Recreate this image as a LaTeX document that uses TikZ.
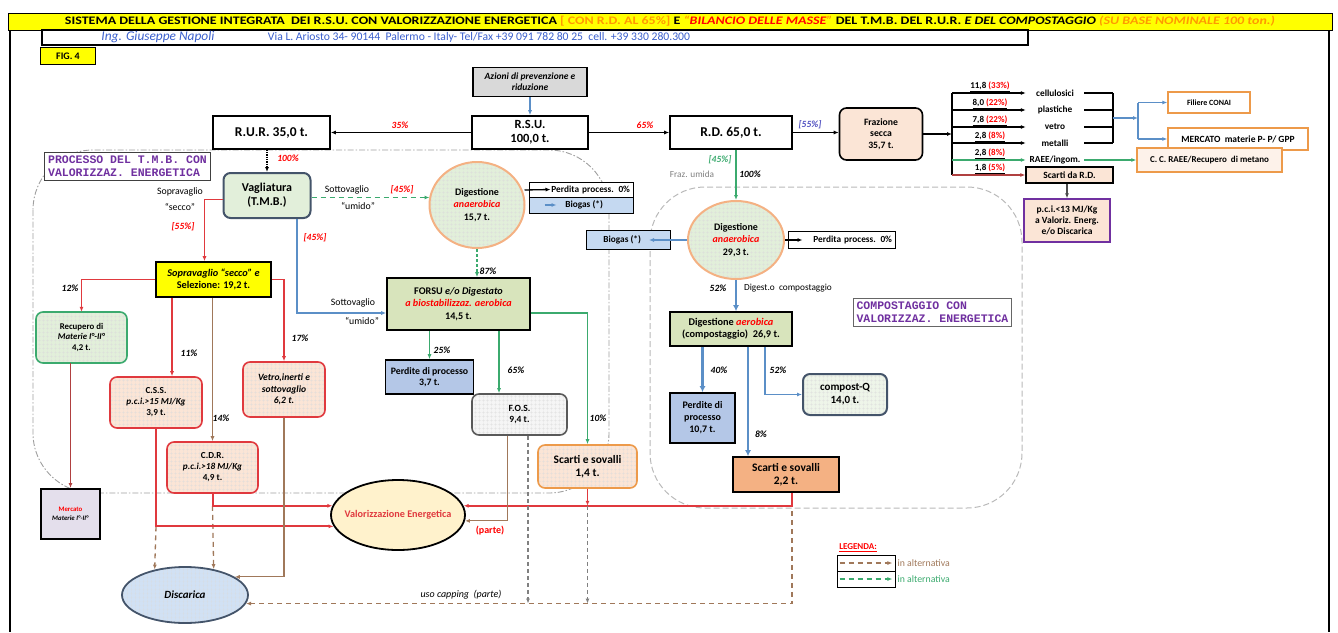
\documentclass[tikz,border=0pt]{standalone}
\usepackage{fontspec}
\usepackage{graphicx}
\setmainfont{Carlito}
\newfontfamily\monof{Liberation Mono}
\usetikzlibrary{arrows.meta,patterns.meta,shapes.geometric,calc}
\definecolor{cRed}{HTML}{E0393E}
\definecolor{cDRed}{HTML}{B04040}
\definecolor{tRed}{HTML}{FF0000}
\definecolor{cGreen}{HTML}{3BAA6E}
\definecolor{cBlue}{HTML}{5B8FC7}
\definecolor{cBrown}{HTML}{A0785A}
\definecolor{cPurple}{HTML}{7030A0}
\definecolor{peach}{HTML}{FBE5D6}
\definecolor{orangeB}{HTML}{ED9A4A}
\definecolor{orangeF}{HTML}{F4B183}
\definecolor{lgreen}{HTML}{E2EFDA}
\definecolor{olive}{HTML}{D8E4BC}
\definecolor{bgrey}{HTML}{B4C7E7}
\definecolor{lblue}{HTML}{C5D9F1}
\definecolor{slate}{HTML}{44546A}
\definecolor{ylw}{HTML}{FFFF00}
\definecolor{cream}{HTML}{FFF2CC}
\definecolor{lav}{HTML}{E4DFEC}
\definecolor{titleOr}{HTML}{FF9900}
\definecolor{addrBlue}{HTML}{3A5FCD}
\definecolor{pctBlue}{HTML}{5050C0}
\tikzset{
  box/.style={draw=black, line width=1.6pt, fill=white, inner sep=1pt, align=center, font=\fontsize{10}{11.5}\selectfont\bfseries},
  rbox/.style={box, rounded corners=7pt},
  ell/.style={ellipse, draw=black, line width=1.8pt, inner sep=0pt, align=center, font=\fontsize{10}{12.5}\selectfont\bfseries},
  gridf/.style={preaction={fill=#1}, pattern={Hatch[angle=0,distance=4pt,line width=0.3pt]}, pattern color=black!14},
  tip/.style={-{Latex[length=5pt,width=4pt]}},
  blk/.style={draw=black, line width=1.3pt, tip},
  redl/.style={draw=cRed, line width=1.3pt, tip},
  redt/.style={draw=cRed, line width=2pt, tip},
  grl/.style={draw=cGreen, line width=1.3pt, tip},
  blul/.style={draw=cBlue, line width=1.2pt, tip},
  blut/.style={draw=cBlue, line width=2.6pt, -{Latex[length=6pt,width=6pt]}},
  brl/.style={draw=cBrown, line width=1.2pt, tip},
  altb/.style={draw=cBrown, line width=1.3pt, dash pattern=on 5pt off 4pt, tip},
  altg/.style={draw=cGreen, line width=1.3pt, dash pattern=on 5pt off 4pt, tip},
  gdash/.style={draw=gray, line width=1.1pt, dash pattern=on 4pt off 3pt, tip},
  lbl/.style={inner sep=0pt, font=\fontsize{9.8}{11}\selectfont},
  pct/.style={inner sep=0pt, font=\fontsize{9.5}{10.5}\selectfont\bfseries\itshape},
  matl/.style={inner sep=0pt, minimum width=58pt, font=\fontsize{9.3}{10}\selectfont\bfseries},
  mono/.style={draw=black!75, line width=1pt, fill=white, align=left, text=cPurple, font=\monof\bfseries\fontsize{11.5}{13}\selectfont},
}
\begin{document}
\begin{tikzpicture}[x=1pt,y=-1pt]
\useasboundingbox (0,0) rectangle (1338,632);
% process regions
\draw[gray!75, line width=0.9pt, dash pattern=on 6pt off 2pt on 1.5pt off 2pt, rounded corners=60pt] (33,150) rectangle (609,493);
\draw[gray!55, line width=1pt, dash pattern=on 6pt off 3pt, rounded corners=55pt] (650,187) rectangle (1022,508);
% frame and header
\draw[line width=1.2pt] (10,30) -- (10,632);
\draw[line width=1.6pt] (1329,30) -- (1329,632);
\node[draw, fill=ylw, line width=1pt, minimum width=1324pt, minimum height=17pt, inner sep=0pt] (title) at (670,21.5)
 {\resizebox{1210pt}{8.5pt}{\bfseries SISTEMA DELLA GESTIONE INTEGRATA~~DEI R.S.U. CON VALORIZZAZIONE ENERGETICA \textcolor{titleOr}{[ CON R.D. AL 65\%]} E \textcolor{titleOr}{\textit{``}}\textcolor{tRed}{\textit{BILANCIO DELLE MASSE}}\textcolor{titleOr}{\textit{''}} DEL T.M.B. DEL R.U.R. \textit{E DEL COMPOSTAGGIO} \textcolor{titleOr}{\textit{(SU BASE NOMINALE 100 ton.)}}}};
\node[draw, line width=1.4pt, minimum width=986pt, minimum height=15pt, inner sep=0pt] (addr) at (535,37.5) {};
\node[inner sep=0pt, text=addrBlue] (name) at (158,37.5) {\resizebox{113pt}{!}{\itshape Ing. Giuseppe Napoli}};
\node[inner sep=0pt, text=addrBlue] (via) at (479,37.5) {\resizebox{422pt}{!}{Via L. Ariosto 34- 90144~ Palermo - Italy- Tel/Fax +39 091 782 80 25~ cell. +39 330 280.300}};
\node[draw, fill=ylw, line width=1.5pt, minimum width=55pt, minimum height=17pt, inner sep=0pt, font=\fontsize{10}{11}\selectfont\bfseries] (fig) at (68,56) {FIG. 4};
% top row
\node[box, fill=gray!30, minimum width=114pt, minimum height=29pt, font=\fontsize{9.5}{11}\selectfont\bfseries\itshape] (azioni) at (530,82) {Azioni di prevenzione e\\riduzione};
\node[box, minimum width=116pt, minimum height=33pt, font=\fontsize{12.5}{14}\selectfont\bfseries] (rsu) at (530,132.5) {R.S.U.\\100,0 t.};
\node[box, minimum width=117pt, minimum height=33pt, font=\fontsize{13.5}{14}\selectfont\bfseries] (rur) at (271.5,132.5) {R.U.R. 35,0 t.};
\node[box, minimum width=122pt, minimum height=33pt, font=\fontsize{13.5}{14}\selectfont\bfseries] (rd) at (731,132.5) {R.D. 65,0 t.};
\node[rbox, fill=peach, minimum width=83pt, minimum height=52pt, font=\fontsize{9.7}{11.5}\selectfont\bfseries] (secca) at (881,134) {Frazione\\secca\\35,7 t.};
% dry fraction split
\coordinate (busA) at (952,93);
\coordinate (busB) at (952,175);
\node[matl] (m1) at (1055,93) {cellulosici};
\node[matl] (m2) at (1055,110) {plastiche};
\node[matl] (m3) at (1055,127) {vetro};
\node[matl] (m4) at (1055,143) {metalli};
\node[matl] (m5) at (1055,160) {RAEE/ingom.};
\node[box, fill=peach, line width=1.3pt, minimum width=87pt, minimum height=16pt, font=\fontsize{9.5}{10}\selectfont\bfseries] (sRD) at (1069.5,175) {Scarti da R.D.};
\node[box, draw=orangeB, line width=1.3pt, minimum width=82pt, minimum height=21pt, font=\fontsize{8}{9}\selectfont\bfseries] (conai) at (1209,102.5) {Filiere CONAI};
\node[box, draw=orangeB, line width=1.3pt, minimum width=140pt, minimum height=22pt, font=\fontsize{9.5}{10}\selectfont\bfseries] (merc) at (1238,139) {MERCATO~ materie P- P/ GPP};
\node[box, draw=orangeB, fill=peach!50, line width=1.3pt, minimum width=145pt, minimum height=24pt, font=\fontsize{9}{10}\selectfont\bfseries] (raee) at (1209.5,160) {C. C. RAEE/Recupero~ di metano};
\node[box, draw=cPurple, fill=peach, line width=1.3pt, minimum width=86pt, minimum height=43pt, font=\fontsize{9.5}{11}\selectfont\bfseries] (pci) at (1067,220.5) {p.c.i.<13 MJ/Kg\\a Valoriz. Energ.\\e/o Discarica};
% TMB side
\node[mono] (proc) at (127.5,166.5) {PROCESSO DEL T.M.B. CON\\VALORIZZAZ. ENERGETICA};
\node[mono, draw=black!60] (comp) at (932.5,312.5) {COMPOSTAGGIO CON\\VALORIZZAZ. ENERGETICA};
\node[rbox, fill=lgreen, draw=slate, line width=2pt, minimum width=87pt, minimum height=45pt, font=\fontsize{12}{14}\selectfont\bfseries] (vagl) at (267,195.5) {Vagliatura\\(T.M.B.)};
\node[box, fill=ylw, minimum width=115pt, minimum height=35pt, font=\fontsize{10.3}{12}\selectfont\bfseries] (sel) at (213.5,279.5) {\textit{Sopravaglio ``secco'' e}\\Selezione: 19,2 t.};
\node[rbox, draw=cGreen, gridf=lgreen, minimum width=91pt, minimum height=51pt, font=\fontsize{8.8}{10.5}\selectfont\bfseries] (recup) at (81.5,337.5) {Recupero di\\\textit{Materie I°-II°}\\4,2 t.};
\node[rbox, draw=cRed, gridf=peach, minimum width=92pt, minimum height=51pt, font=\fontsize{9.2}{11}\selectfont\bfseries] (css) at (156,402.5) {C.S.S.\\\textit{p.c.i.>15 MJ/Kg}\\3,9 t.};
\node[rbox, draw=cRed, gridf=peach, minimum width=82pt, minimum height=55pt, font=\fontsize{9.6}{11.5}\selectfont\bfseries\itshape] (vetroB) at (284,389.5) {Vetro,inerti e\\sottovaglio\\6,2 t.};
\node[rbox, draw=cRed, gridf=peach, minimum width=91pt, minimum height=51pt, font=\fontsize{9.2}{11}\selectfont\bfseries] (cdr) at (212.5,467.5) {C.D.R.\\\textit{p.c.i.>18 MJ/Kg}\\4,9 t.};
\node[box, fill=lav, minimum width=59pt, minimum height=50pt, line width=2pt, font=\fontsize{6.8}{8.5}\selectfont\bfseries] (mercMP) at (70.5,514) {\textcolor{tRed}{Mercato}\\\textit{Materie I°-II°}};
% anaerobic digestion (TMB)
\node[ell, draw=orangeF, line width=2pt, gridf=lgreen, minimum width=95pt, minimum height=86pt] (digL) at (477,205) {Digestione\\\textcolor{tRed}{\textit{anaerobica}}\\15,7 t.};
\node[box, line width=1pt, minimum width=104pt, minimum height=15pt, text width=98pt, align=right, font=\fontsize{9.3}{10}\selectfont\bfseries] (perdL) at (581,189.5) {Perdita process. 0\%};
\node[box, fill=lblue, line width=1pt, minimum width=104pt, minimum height=16pt, font=\fontsize{9.3}{10}\selectfont\bfseries] (bioL) at (581,205) {~~~Biogas (*)};
\node[box, fill=olive, minimum width=143pt, minimum height=52pt, font=\fontsize{10.2}{12.5}\selectfont\bfseries] (forsu) at (458.5,304) {FORSU \textit{e/o Digestato}\\\textcolor{tRed}{\textit{a biostabilizzaz. aerobica}}\\14,5 t.};
\node[box, fill=bgrey, minimum width=88pt, minimum height=34pt, font=\fontsize{9.8}{11.5}\selectfont\bfseries] (perdPL) at (429.5,377) {Perdite di processo\\3,7 t.};
\node[rbox, draw=black!65, gridf=black!4, minimum width=95pt, minimum height=41pt, font=\fontsize{9.5}{11}\selectfont\bfseries] (fos) at (519.5,414.5) {F.O.S.\\9,4 t.};
\node[rbox, draw=orangeB, gridf=peach, minimum width=99pt, minimum height=43pt, font=\fontsize{11.5}{13}\selectfont\bfseries] (scL) at (587.5,466.5) {Scarti e sovalli\\1,4 t.};
% composting side
\node[ell, draw=orangeF, line width=2pt, gridf=lgreen, minimum width=96pt, minimum height=78pt] (digR) at (736,240) {Digestione\\\textcolor{tRed}{\textit{anaerobica}}\\29,3 t.};
\node[box, fill=lblue, line width=1pt, minimum width=84pt, minimum height=19pt, font=\fontsize{9.3}{10}\selectfont\bfseries] (bioR) at (628.5,240) {Biogas (*)~~~~~~};
\node[box, line width=1pt, minimum width=107pt, minimum height=17pt, text width=101pt, align=right, font=\fontsize{9.3}{10}\selectfont\bfseries] (perdR) at (841.5,240) {Perdita process. 0\%};
\node[box, fill=olive, minimum width=122pt, minimum height=34pt, font=\fontsize{10.3}{12}\selectfont\bfseries] (aerob) at (731,329) {Digestione \textcolor{tRed}{\textit{aerobica}}\\(compostaggio)~~26,9 t.};
\node[box, fill=bgrey, minimum width=65pt, minimum height=50pt, font=\fontsize{10}{12}\selectfont\bfseries] (perdPR) at (702.5,418) {Perdite di\\processo\\10,7 t.};
\node[rbox, draw=slate, line width=2pt, gridf=lgreen!60, minimum width=84pt, minimum height=41pt, font=\fontsize{11}{13}\selectfont\bfseries] (compQ) at (845,394.5) {compost-Q\\14,0 t.};
\node[box, fill=orangeF, minimum width=106pt, minimum height=35pt, font=\fontsize{11.5}{13}\selectfont\bfseries] (scR) at (786,474.5) {Scarti e sovalli\\2,2 t.};
% final destinations
\node[ell, fill=cream, minimum width=134pt, minimum height=70pt] (valor) at (398,515) {};
\node[inner sep=0pt, font=\fontsize{10.2}{11}\selectfont\bfseries, text=cRed] (valorT) at (valor.center) {Valorizzazione Energetica};
\node[ell, draw=slate, gridf=lblue!80, minimum width=126pt, minimum height=56pt, font=\fontsize{11}{12}\selectfont\bfseries\itshape] (disc) at (185,595) {Discarica};
% ---- connectors: main row
\draw[draw=cBlue, line width=1.3pt, tip] (azioni.south) -- (rsu.north);
\draw[blk] (rsu.west) -- (rur.east);
\draw[blk] (rsu.east) -- (rd.west);
\draw[blk] (rd.east) -- (rd.east -| secca.west);
\node[pct, text=tRed] (p35) at (400,125) {35\%};
\node[pct, text=tRed] (p65) at (645,125) {65\%};
\node[pct, text=pctBlue] (p55a) at (810,125) {[55\%]};
% dry fraction bus
\draw[blk] (secca.east) -- (secca.east -| busA);
\draw[line width=1.3pt] (busA) -- (busB);
\draw[blk] (busA) -- (m1.west);
\draw[blk] (busA |- m2.west) -- (m2.west);
\draw[blk] (busA |- m3.west) -- (m3.west);
\draw[blk] (busA |- m4.west) -- (m4.west);
\draw[grl] (busA |- m5.west) -- (m5.west);
\draw[draw=cDRed, line width=1.3pt, tip] (busB) -- (sRD.west);
\node[pct, anchor=south, font=\fontsize{9}{10}\selectfont\bfseries] (q1) at (990,92) {\underline{11,8 \textcolor{tRed}{(33\%)}}};
\node[pct, anchor=south, font=\fontsize{9}{10}\selectfont\bfseries] (q2) at (990,109) {\underline{8,0 \textcolor{tRed}{(22\%)}}};
\node[pct, anchor=south, font=\fontsize{9}{10}\selectfont\bfseries] (q3) at (990,126) {\underline{7,8 \textcolor{tRed}{(22\%)}}};
\node[pct, anchor=south, font=\fontsize{9}{10}\selectfont\bfseries] (q4) at (990,142) {\underline{2,8 \textcolor{tRed}{(8\%)}}};
\node[pct, anchor=south, font=\fontsize{9}{10}\selectfont\bfseries] (q5) at (990,159) {\underline{2,8 \textcolor{tRed}{(8\%)}}};
\node[pct, anchor=south, font=\fontsize{9}{10}\selectfont\bfseries] (q6) at (990,174) {\underline{1,8 \textcolor{tRed}{(5\%)}}};
\coordinate (jn) at (1113,118);
\coordinate (bv) at (1138,118);
\draw[line width=1.3pt] (m1.east) -- (m1.east -| jn);
\draw[line width=1.3pt] (m2.east) -- (m2.east -| jn);
\draw[line width=1.3pt] (m3.east) -- (m3.east -| jn);
\draw[line width=1.3pt] (m4.east) -- (m4.east -| jn);
\draw[line width=1.3pt] (m1.east -| jn) -- (m4.east -| jn);
\draw[blul] (jn) -- (bv);
\draw[draw=cBlue, line width=1.2pt] (bv |- conai.west) -- (bv |- merc.west);
\draw[blul] (bv |- conai.west) -- (conai.west);
\draw[blul] (bv |- merc.west) -- (merc.west);
\draw[grl] (m5.east) -- (raee.west);
\draw[draw=black!70, line width=1.3pt, tip] (pci.north |- sRD.south) -- (pci.north);
% ---- TMB connectors
\draw[draw=black, line width=1.3pt, densely dotted, tip] (vagl.north |- rur.south) -- (vagl.north);
\node[pct, text=tRed] (p100) at (288,158) {100\%};
\draw[redl] ($(vagl.west)+(0,4)$) -| ($(sel.north)+(-9,0)$);
\node[lbl] (sopra1) at (180,192) {Sopravaglio};
\node[lbl] (sopra2) at (180,207) {``secco''};
\node[pct, text=tRed] (p55b) at (183,227) {[55\%]};
\draw[altg] ($(vagl.east)+(0,2)$) -- ($(vagl.east -| digL.west)+(1,2)$);
\node[lbl] (sott1) at (347,190) {Sottovaglio};
\node[pct, text=tRed] (p45a) at (402,190) {[45\%]};
\node[lbl] (sott2) at (358,206) {``umido''};
\coordinate (xVb) at (297,0);
\draw[blul] (vagl.south -| xVb) |- ($(forsu.west)+(0,9)$);
\node[pct, text=tRed] (p45b) at (315,238) {[45\%]};
\node[lbl] (sott3) at (353,303) {Sottovaglio};
\node[lbl] (sott4) at (362,321) {``umido''};
\draw[draw=cGreen, line width=1.3pt, dash pattern=on 3pt off 2pt, tip] (digL.south) -- (digL.south |- forsu.north);
\node[pct] (p87) at (488,271) {87\%};
\draw[blk] ($(digL.east)+(-1,-15)$) -- ($(perdL.west)+(22,0)$);
\draw[blul] ($(bioL.west)+(16,0)$) -- ($(bioL.west)+(28,0)$);
\draw[grl] (perdPL.north |- forsu.south) -- (perdPL.north);
\node[pct] (p25) at (442,350) {25\%};
\coordinate (xFos) at (499,0);
\draw[grl] (forsu.south -| xFos) -- (fos.north -| xFos);
\node[pct] (p65b) at (516,370) {65\%};
\draw[grl] ($(forsu.east)+(0,9)$) -| (scL.north);
\node[pct] (p10) at (598,418) {10\%};
% selection outputs
\draw[redl] (sel.west) -| (recup.north);
\node[pct] (p12) at (70,288) {12\%};
\coordinate (xCss) at (172,0);
\draw[redl] (sel.south -| xCss) -- (css.north -| xCss);
\node[pct] (p11) at (189,353) {11\%};
\draw[brl] (sel.south -| cdr.north) -- (cdr.north);
\node[pct] (p14) at (221,418) {14\%};
\draw[redl] (sel.east) -| (vetroB.north);
\node[pct] (p17) at (300,338) {17\%};
\draw[draw=cDRed, line width=1.8pt, tip] (mercMP.north |- recup.south) -- (mercMP.north);
% to valorization / landfill
\draw[altb] (css.south |- valor.190) -- (disc.140);
\draw[altb] (cdr.south |- valor.172) -- (disc.42);
\draw[redt] (css.south) |- (valor.190);
\draw[redt] (cdr.south) |- (valor.172);
\draw[brl] (vetroB.south) |- (disc.20);
\draw[altb] ($(scR.south)+(6,0)$) |- (disc.-8);
\draw[redt] ($(scR.south)+(6,0)$) |- (valor.8);
\draw[redl] (scL.south) -- (scL.south |- valor.8);
\draw[gdash] (scL.south |- valor.8) -- (scL.south |- disc.-8);
\draw[draw=cBrown, line width=1pt, tip] ($(fos.south)+(-12,0)$) |- (valor.355);
\draw[gdash] ($(fos.south)+(8.5,0)$) -- ($(fos.south |- disc.-8)+(8.5,0)$);
\node[pct, text=tRed, font=\fontsize{10}{11}\selectfont\bfseries] (parte) at (490,531) {(parte)};
\node[pct, font=\fontsize{10}{11}\selectfont\itshape] (capping) at (461,595) {uso capping~ (parte)};
% ---- composting connectors
\draw[grl] (rd.south -| digR.north) -- (digR.north);
\node[pct, text=cGreen] (p45c) at (720,160) {[45\%]};
\node[lbl, text=gray, font=\fontsize{9.3}{10}\selectfont] (fu) at (692,174) {Fraz. umida};
\node[pct] (p100b) at (750,174) {100\%};
\draw[blul] (digR.west) -- ($(bioR.east)+(-22,0)$);
\draw[blk] (digR.east) -- ($(perdR.west)+(15,0)$);
\draw[blut] (digR.south) -- (digR.south |- aerob.north);
\node[pct] (p52a) at (718,288) {52\%};
\node[lbl, font=\fontsize{9.3}{10}\selectfont] (dco) at (788,288) {Digest.o~ compostaggio};
\draw[blut] (aerob.south -| perdPR.north) -- (perdPR.north);
\node[pct] (p40) at (719,370) {40\%};
\coordinate (xS8) at (748,0);
\draw[blut] (aerob.south -| xS8) -- (scR.north -| xS8);
\node[pct] (p8) at (761,434) {8\%};
\coordinate (xQ) at (765,0);
\draw[blul] (aerob.south -| xQ) |- (compQ.west);
\node[pct] (p52b) at (778,370) {52\%};
% legend
\node[pct, text=tRed, font=\fontsize{9}{10}\selectfont\bfseries] (legT) at (858,548) {\underline{LEGENDA:}};
\node[draw, line width=0.8pt, minimum width=58pt, minimum height=16pt, inner sep=0pt] (leg1) at (866,563) {};
\node[draw, line width=0.8pt, minimum width=58pt, minimum height=16pt, inner sep=0pt] (leg2) at (866,579) {};
\draw[altb] ($(leg1.west)+(3,0)$) -- ($(leg1.east)+(-3,0)$);
\draw[altg] ($(leg2.west)+(3,0)$) -- ($(leg2.east)+(-3,0)$);
\node[lbl, anchor=west, text=cBrown] (lt1) at ($(leg1.east)+(2,0)$) {in alternativa};
\node[lbl, anchor=west, text=cGreen] (lt2) at ($(leg2.east)+(2,0)$) {in alternativa};
\end{tikzpicture}
\end{document}
